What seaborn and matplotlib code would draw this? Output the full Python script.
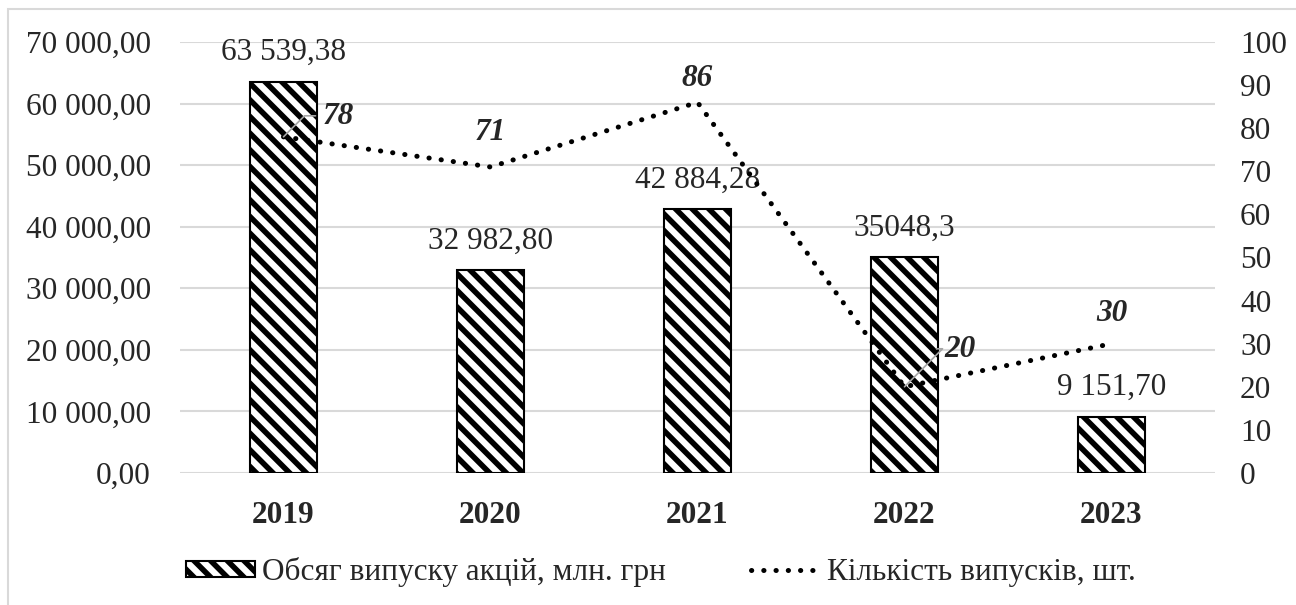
import matplotlib
matplotlib.use("Agg")
import matplotlib.pyplot as plt
import seaborn as sns
import numpy as np
import pandas as pd
from matplotlib.ticker import FuncFormatter, MultipleLocator
from matplotlib.patches import Rectangle, Patch
from matplotlib.lines import Line2D

years = ["2019", "2020", "2021", "2022", "2023"]
volume = [63539.38, 32982.80, 42884.28, 35048.3, 9151.70]
volume_labels = ["63 539,38", "32 982,80", "42 884,28", "35048,3", "9 151,70"]
counts = [78, 71, 86, 20, 30]
bar_name = "Обсяг випуску акцій, млн. грн"
line_name = "Кількість випусків, шт."

sns.set_theme(style="white")
SERIF = ['Liberation Serif', 'DejaVu Serif']
plt.rcParams['font.family'] = SERIF
plt.rcParams['hatch.linewidth'] = 4.0
plt.rcParams['hatch.color'] = 'black'
FS = 22.5
HATCH = "\\\\"
DOTS = (0, (0.05, 2.4))

df = pd.DataFrame({"year": years, "volume": volume})

fig = plt.figure(figsize=(12.96, 6.05), dpi=100)
ax = fig.add_axes([180/1296, 1 - 473/605, (1215 - 180)/1296, (473 - 42)/605])

sns.barplot(data=df, x="year", y="volume", ax=ax, width=0.32,
            color="white", edgecolor="black", linewidth=1.5, zorder=2)
for p in ax.patches:
    p.set_hatch(HATCH)
    p.set_facecolor("white")
    p.set_edgecolor("black")

ax.set_ylim(0, 70000)
ax.set_xlim(-0.5, 4.5)
ax.yaxis.set_major_locator(MultipleLocator(10000))
ax.yaxis.set_major_formatter(FuncFormatter(lambda v, _: f"{v:,.2f}".replace(",", " ").replace(".", ",")))
ax.grid(axis="y", color="#d9d9d9", linewidth=1.5, zorder=0)
ax.set_axisbelow(True)
ax.set_xlabel("")
ax.set_ylabel("")
for s in ax.spines.values():
    s.set_visible(False)
ax.tick_params(axis="y", length=0, pad=21, labelsize=FS)
ax.tick_params(axis="x", length=0, pad=20, labelsize=FS)
for t in ax.get_xticklabels():
    t.set_fontweight("bold")

for i, (v, lab) in enumerate(zip(volume, volume_labels)):
    ax.annotate(lab, (i, v), xytext=(0, 29), textcoords="offset pixels",
                ha="center", va="center", fontsize=FS)

ax2 = ax.twinx()
sns.lineplot(x=np.arange(len(counts)), y=counts, ax=ax2, color="black",
             linewidth=3.6, linestyle=DOTS, zorder=3)
for ln in ax2.lines:
    ln.set_dash_capstyle("round")
ax2.set_ylim(0, 100)
ax2.yaxis.set_major_locator(MultipleLocator(10))
ax2.tick_params(axis="y", length=0, pad=18, labelsize=FS)
for s in ax2.spines.values():
    s.set_visible(False)
ax2.set_ylabel("")
ax2.grid(False)

offsets = [(55, 20), (0, 34), (0, 24), (55, 37), (0, 30)]
leader = [True, False, False, True, False]
for i, (c, off, ld) in enumerate(zip(counts, offsets, leader)):
    ax2.annotate(str(c), (i, c), xytext=off, textcoords="offset pixels",
                 ha="center", va="center", fontsize=FS, fontweight="bold",
                 fontstyle="italic")
    if ld:
        ax2.annotate("", (i, c), xytext=(off[0] - 23, off[1] + 1),
                     textcoords="offset pixels",
                     arrowprops=dict(arrowstyle="-", color="#a6a6a6", lw=1.2,
                                     connectionstyle="angle,angleA=0,angleB=45",
                                     shrinkA=0, shrinkB=0))

handles = [Patch(facecolor="white", edgecolor="black", hatch=HATCH, linewidth=1.5, label=bar_name),
           Line2D([0], [0], color="black", linewidth=3.6, linestyle=DOTS,
                  dash_capstyle="round", label=line_name)]
fig.legend(handles=handles, loc="center", bbox_to_anchor=(0.5 + 13/1296, 1 - 572/605),
           ncol=2, frameon=False, prop=dict(family=SERIF, size=FS),
           handlelength=2.2, handleheight=0.4,
           handletextpad=0.25, columnspacing=2.7)

fig.add_artist(Rectangle((8/1296, -0.1), 1.2, 1 - 9/605 + 0.1, transform=fig.transFigure,
                         fill=False, edgecolor="#d9d9d9", linewidth=1.5))

fig.savefig("out.png", dpi=100)
